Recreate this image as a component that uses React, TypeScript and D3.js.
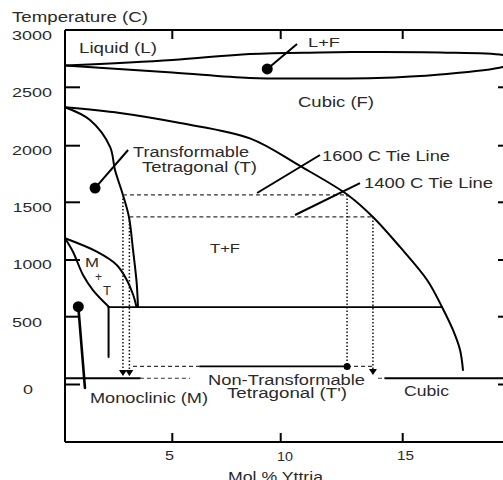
import React from 'react';
import * as d3 from 'd3';

// ---- axis ticks ----
const xTicks = [5, 10, 15];
const yTicks = [0, 500, 1000, 1500, 2000, 2500];
const xTickLabels = ['5', '10', '15'];
const yTickLabels = ['0', '500', '1000', '1500', '2000', '2500', '3000'];
// calibration of the (unevenly drawn) original axes
const xCalib = [0, 5, 10, 15, 20];
const yCalib = [-500, 0, 500, 1000, 1500, 2000, 2500, 3000];

// ---- phase boundaries (mol% Y2O3, temperature C) ----
const liquidusX = [0, 5, 8.58, 11.61, 13.95, 16.53, 19.11, 19.81];
const liquidusT = [2690, 2738, 2791, 2804, 2808, 2804, 2782, 2738];
const solidusX = [0, 5, 8.58, 11.61, 13.95, 16.53, 19.11, 19.81];
const solidusT = [2690, 2629, 2581, 2577, 2581, 2612, 2677, 2738];

const cubicX = [0, 2.56, 5.36, 8.58, 10.79, 12.75, 13.78, 14.89, 16.0, 16.61, 17.06, 17.35, 17.47];
const cubicT = [2329, 2280, 2194, 2063, 1821, 1565, 1373, 1113, 824, 586, 402, 254, 107];

const tetX = [0, 1.165, 2.1, 2.33, 2.7, 2.98, 3.17, 3.34, 3.4];
const tetT = [2329, 2220, 1989, 1785, 1565, 1373, 1087, 797, 586];

const mtUpperX = [0, 1.48, 2.41, 2.88, 3.18, 3.33];
const mtUpperT = [1188, 1072, 956, 824, 691, 588];
const mtLowerX = [0, 0.37, 0.84, 1.3, 2.05];
const mtLowerT = [1188, 1072, 868, 735, 586];

const eutectoidT = 584;
const eutectoidX = [2.03, 16.61];
const eutectoidDropT = 203;

const monoX = [0.62, 0.93];
const monoT = [588, -30];

// metastable T' line and room-temperature line
const tPrimeT = 133;
const tPrimeDashed = [[3.17, 6.28], [12.72, 13.78]];
const tPrimeSolid = [[6.28, 12.72]];
const roomT = 46;
const roomSolid = [[0, 3.49], [14.28, 20]];
const roomDashed = [[3.49, 5.82], [13.99, 14.28]];

// tie lines
const tieT = [1565, 1373];
const tieXL = [2.7, 3.0];
const tieXR = [12.72, 13.78];
const tieEndT = [63, 70];

// annotations: pointer lines
const pointerFrom = [[9.38, 2660], [1.4, 1626], [8.91, 1582], [10.59, 1390]];
const pointerTo = [[10.67, 2878], [2.94, 1962], [11.61, 1918], [13.25, 1670]];
const pointerDot = [true, true, false, false];

const W = 503, H = 480;
const L = 65, TOP = 30, BOT = 442, R = 513;

const x = d3.scaleLinear().domain(xCalib).range([65, 172.3, 280.7, 402.7, 524.7]);
const y = d3.scaleLinear().domain(yCalib).range([442, 384.5, 316.7, 260, 202.3, 145.7, 87.3, 30]);

const line = d3
  .line<[number, number]>()
  .x((d) => x(d[0]))
  .y((d) => y(d[1]))
  .curve(d3.curveCatmullRom.alpha(0.5));
const straight = d3
  .line<[number, number]>()
  .x((d) => x(d[0]))
  .y((d) => y(d[1]));

const zip = (a: number[], b: number[]) => a.map((v, i) => [v, b[i]] as [number, number]);

const FONT = '"Liberation Sans", Arial, sans-serif';
const TXT = '#2a2a2a';

function Label({ x0, x1, yb, size = 14, children }: { x0: number; x1: number; yb: number; size?: number; children: string }) {
  return (
    <text
      x={x0}
      y={yb}
      fontSize={size}
      fontFamily={FONT}
      fill={TXT}
      textLength={x1 - x0}
      lengthAdjust="spacingAndGlyphs"
    >
      {children}
    </text>
  );
}

const yLabelPos: Record<string, [number, number, number]> = {
  '0': [23, 33, 394],
  '500': [12, 42, 327],
  '1000': [12.7, 51.7, 269],
  '1500': [12.7, 51.7, 212],
  '2000': [12, 52, 155],
  '2500': [12, 52, 97],
  '3000': [12, 52, 40],
};
const xLabelPos: Record<string, [number, number, number]> = {
  '5': [165, 174, 460],
  '10': [277, 293, 461],
  '15': [397, 414, 460],
};

export default function App() {
  const thick = 2;
  return (
    <svg
      width={W}
      height={H}
      viewBox={`0 0 ${W} ${H}`}
      style={{ position: 'absolute', left: 0, top: 0, background: '#fff' }}
    >
      <rect x={0} y={0} width={W} height={H} fill="#fff" />
      {/* frame */}
      <g stroke="#000" strokeWidth={thick} fill="none">
        <line x1={L} y1={TOP} x2={R} y2={TOP} />
        <line x1={L} y1={BOT} x2={R} y2={BOT} />
        <line x1={L} y1={TOP} x2={L} y2={BOT} />
        <line x1={R} y1={TOP} x2={R} y2={BOT} />
        {xTicks.map((t) => (
          <g key={'xt' + t}>
            <line x1={x(t)} x2={x(t)} y1={TOP} y2={TOP + 9} />
            <line x1={x(t)} x2={x(t)} y1={BOT} y2={BOT - 9} />
          </g>
        ))}
        {yTicks.map((t) => (
          <g key={'yt' + t}>
            <line x1={L} x2={L + 15} y1={y(t)} y2={y(t)} />
            <line x1={R} x2={R - 15} y1={y(t)} y2={y(t)} />
          </g>
        ))}
      </g>

      {/* tick labels */}
      {yTickLabels.map((s) => {
        const p = yLabelPos[s];
        return (
          <Label key={'yl' + s} x0={p[0]} x1={p[1]} yb={p[2]} size={12}>
            {s}
          </Label>
        );
      })}
      {xTickLabels.map((s) => {
        const p = xLabelPos[s];
        return (
          <Label key={'xl' + s} x0={p[0]} x1={p[1]} yb={p[2]} size={12}>
            {s}
          </Label>
        );
      })}
      <Label x0={12} x1={148} yb={22}>Temperature (C)</Label>
      <Label x0={228} x1={323} yb={482}>Mol % Yttria</Label>

      {/* phase boundaries */}
      <g stroke="#000" strokeWidth={thick} fill="none" strokeLinejoin="round" strokeLinecap="round">
        <path d={line(zip(liquidusX, liquidusT)) || ''} />
        <path d={line(zip(solidusX, solidusT)) || ''} />
        <path d={line(zip(cubicX, cubicT)) || ''} />
        <path d={line(zip(tetX, tetT)) || ''} />
        <path d={line(zip(mtUpperX, mtUpperT)) || ''} />
        <path d={line(zip(mtLowerX, mtLowerT)) || ''} />
        <path d={straight([[eutectoidX[0], eutectoidT], [eutectoidX[1], eutectoidT]]) || ''} strokeWidth={1.6} />
        <path d={straight([[eutectoidX[0], eutectoidT], [eutectoidX[0], eutectoidDropT]]) || ''} />
        <path d={straight(zip(monoX, monoT)) || ''} strokeWidth={2.6} />
        {tPrimeSolid.map((s, i) => (
          <path key={'tps' + i} d={straight([[s[0], tPrimeT], [s[1], tPrimeT]]) || ''} strokeWidth={1.8} />
        ))}
        {roomSolid.map((s, i) => (
          <path key={'rs' + i} d={straight([[s[0], roomT], [s[1], roomT]]) || ''} strokeWidth={1.8} />
        ))}
      </g>

      {/* dashed horizontals */}
      <g stroke="#333" strokeWidth={1.2} fill="none" strokeDasharray="4 3">
        {tPrimeDashed.map((s, i) => (
          <path key={'tpd' + i} d={straight([[s[0], tPrimeT], [s[1], tPrimeT]]) || ''} />
        ))}
        {roomDashed.map((s, i) => (
          <path key={'rd' + i} d={straight([[s[0], roomT], [s[1], roomT]]) || ''} />
        ))}
        {tieT.map((t, i) => (
          <path key={'tie' + i} d={straight([[tieXL[i], t], [tieXR[i], t]]) || ''} />
        ))}
      </g>

      {/* dotted verticals */}
      <g stroke="#111" strokeWidth={1.5} fill="none" strokeDasharray="1.5 2">
        {tieT.map((t, i) => (
          <g key={'v' + i}>
            <path d={straight([[tieXL[i], t], [tieXL[i], tieEndT[0] + 6]]) || ''} />
            <path d={straight([[tieXR[i], t], [tieXR[i], i === 0 ? tPrimeT : tieEndT[1] + 6]]) || ''} />
          </g>
        ))}
      </g>

      {/* arrowheads */}
      <g fill="#000">
        {tieXL.map((xv, i) => {
          const cx = x(xv);
          const ty = y(tieEndT[0]);
          return <path key={'al' + i} d={`M${cx - 4},${ty - 6} L${cx + 4},${ty - 6} L${cx},${ty} Z`} />;
        })}
        {(() => {
          const cx = x(tieXR[1]);
          const ty = y(tieEndT[1]);
          return <path d={`M${cx - 4},${ty - 6} L${cx + 4},${ty - 6} L${cx},${ty} Z`} />;
        })()}
        <circle cx={x(tieXR[0])} cy={y(tPrimeT)} r={3.5} />
        <circle cx={x(monoX[0])} cy={y(monoT[0])} r={5.5} />
      </g>

      {/* pointers */}
      <g stroke="#000" strokeWidth={2} fill="#000">
        {pointerFrom.map((p, i) => (
          <g key={'pt' + i}>
            <line x1={x(p[0])} y1={y(p[1])} x2={x(pointerTo[i][0])} y2={y(pointerTo[i][1])} />
            {pointerDot[i] && <circle cx={x(p[0])} cy={y(p[1])} r={5.5} stroke="none" />}
          </g>
        ))}
      </g>

      {/* region labels */}
      <Label x0={79} x1={157} yb={53}>Liquid (L)</Label>
      <Label x0={308} x1={340} yb={47} size={13}>L+F</Label>
      <Label x0={298} x1={374} yb={107}>Cubic (F)</Label>
      <Label x0={322} x1={450} yb={161}>1600 C Tie Line</Label>
      <Label x0={364} x1={493} yb={188}>1400 C Tie Line</Label>
      <Label x0={133} x1={249} yb={157}>Transformable</Label>
      <Label x0={142} x1={257} yb={172}>Tetragonal (T)</Label>
      <Label x0={210} x1={240} yb={253} size={13}>T+F</Label>
      <Label x0={85} x1={99} yb={267} size={13}>M</Label>
      <Label x0={95} x1={102} yb={281} size={12}>+</Label>
      <Label x0={103} x1={111} yb={295} size={13}>T</Label>
      <Label x0={90} x1={208} yb={403}>Monoclinic (M)</Label>
      <Label x0={208} x1={365} yb={385}>Non-Transformable</Label>
      <Label x0={227} x1={347} yb={398}>Tetragonal (T')</Label>
      <Label x0={404} x1={449} yb={396}>Cubic</Label>
    </svg>
  );
}
